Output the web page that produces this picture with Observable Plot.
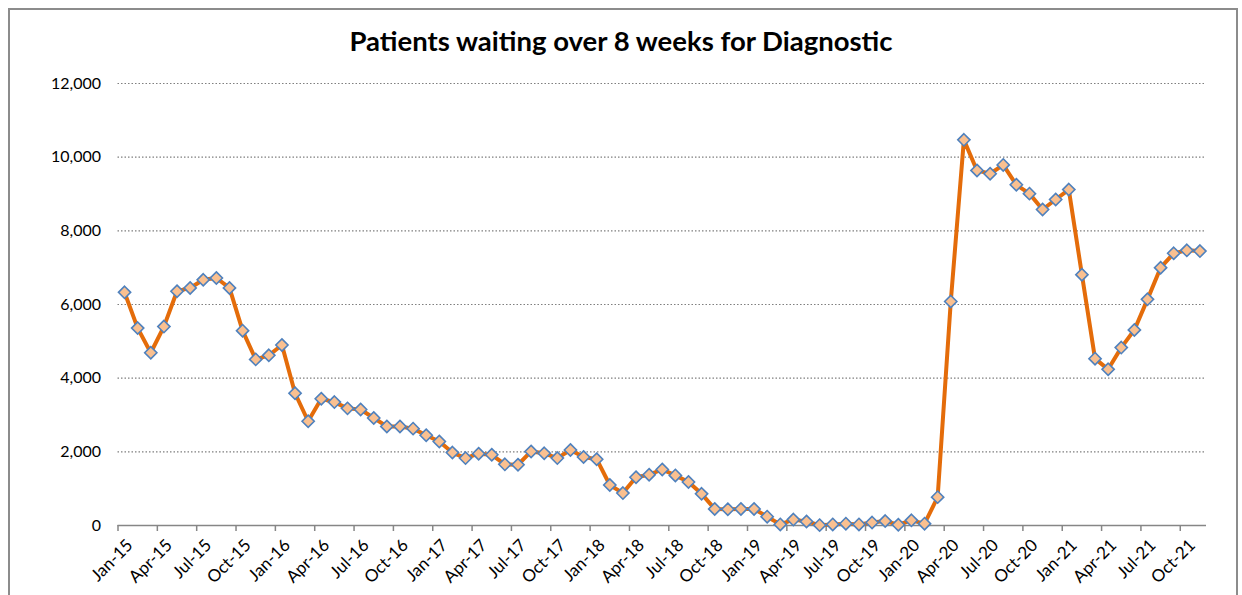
<!DOCTYPE html>
<html>
<head>
<meta charset="utf-8">
<script src="https://cdn.jsdelivr.net/npm/d3@7"></script>
<script src="https://cdn.jsdelivr.net/npm/@observablehq/plot@0.6"></script>
<style>
  body { margin: 0; background: #fff; font-family: Lato, "Open Sans", sans-serif; }
  #wrap { position: relative; width: 1242px; height: 595px; overflow: hidden; background: #fff; }
  #frame { position: absolute; left: 8px; top: 8px; width: 1230px; height: 640px; border: 2px solid #8c8c8c; box-sizing: border-box; pointer-events: none; }
  #title { box-sizing: border-box; height: 70px; padding-top: 25px; line-height: 32px; text-align: center; font-weight: bold; font-size: 27.5px; color: #000; }
  #chart svg { display: block; }
</style>
</head>
<body>
<div id="wrap">
  <div id="title">Patients waiting over 8 weeks for Diagnostic</div>
  <div id="chart"></div>
  <div id="frame"></div>
</div>
<script>
const monthNames = ["Jan","Feb","Mar","Apr","May","Jun","Jul","Aug","Sep","Oct","Nov","Dec"];
const years = ["15","16","17","18","19","20","21"];

const values2015 = [6330, 5360, 4690, 5400, 6360, 6450, 6670, 6720, 6450, 5290, 4510, 4620];
const values2016 = [4900, 3590, 2830, 3440, 3350, 3180, 3150, 2920, 2690, 2690, 2630, 2450];
const values2017 = [2280, 1980, 1830, 1950, 1920, 1660, 1650, 2010, 1960, 1830, 2050, 1860];
const values2018 = [1800, 1100, 880, 1310, 1380, 1520, 1360, 1180, 860, 450, 440, 450];
const values2019 = [450, 240, 30, 160, 110, 10, 30, 50, 30, 80, 120, 20];
const values2020 = [140, 50, 770, 6080, 10470, 9640, 9550, 9790, 9250, 9010, 8580, 8850];
const values2021 = [9120, 6810, 4530, 4240, 4830, 5310, 6140, 7000, 7390, 7470, 7450];

const tickLabels = ["Jan-15","Apr-15","Jul-15","Oct-15","Jan-16","Apr-16","Jul-16","Oct-16",
  "Jan-17","Apr-17","Jul-17","Oct-17","Jan-18","Apr-18","Jul-18","Oct-18",
  "Jan-19","Apr-19","Jul-19","Oct-19","Jan-20","Apr-20","Jul-20","Oct-20",
  "Jan-21","Apr-21","Jul-21","Oct-21"];
const yTicks = [0, 2000, 4000, 6000, 8000, 10000, 12000];

const allValues = [values2015, values2016, values2017, values2018, values2019, values2020, values2021];
const data = [];
allValues.forEach((arr, yi) => arr.forEach((v, mi) => {
  data.push({ i: data.length, label: monthNames[mi] + "-" + years[yi], value: v });
}));
const nCats = data.length;
const tickPos = tickLabels.map((_, k) => k * 3);

const chart = Plot.plot({
  width: 1242,
  height: 525,
  marginLeft: 117.5,
  marginRight: 36,
  marginTop: 13,
  marginBottom: 70,
  style: { fontFamily: "Lato, 'Open Sans', sans-serif", fontSize: "16px", color: "#000", background: "transparent" },
  x: { domain: [0, nCats], axis: null, label: null },
  y: { domain: [0, 12000], axis: null, label: null },
  marks: [
    Plot.ruleY(yTicks.filter(d => d > 0), { stroke: "#7f7f7f", strokeDasharray: "1.5,2", strokeWidth: 1.2 }),
    Plot.ruleY([0], { stroke: "#868686", strokeWidth: 1.5 }),
    Plot.axisY({ ticks: yTicks, tickSize: 0, tickPadding: 17, tickFormat: d3.format(","), fontSize: 16, fill: "#000", label: null }),
    Plot.axisX({ ticks: tickPos, tickSize: 6, stroke: "#868686", strokeWidth: 1.5, tickFormat: () => "", label: null }),
    Plot.axisX({ ticks: tickPos, tickSize: 0, tickPadding: 17, tickRotate: -45,
      tickFormat: d => tickLabels[d / 3], fontSize: 17, fill: "#000", dx: 12, label: null }),
    Plot.line(data, { x: d => d.i + 0.5, y: "value", stroke: "#E46C0A", strokeWidth: 4, strokeLinejoin: "round" }),
    Plot.dot(data, { x: d => d.i + 0.5, y: "value", symbol: "diamond2", r: 5.5, fill: "#FAC090", stroke: "#4F81BD", strokeWidth: 1.6 })
  ]
});
document.getElementById("chart").appendChild(chart);
</script>
</body>
</html>
